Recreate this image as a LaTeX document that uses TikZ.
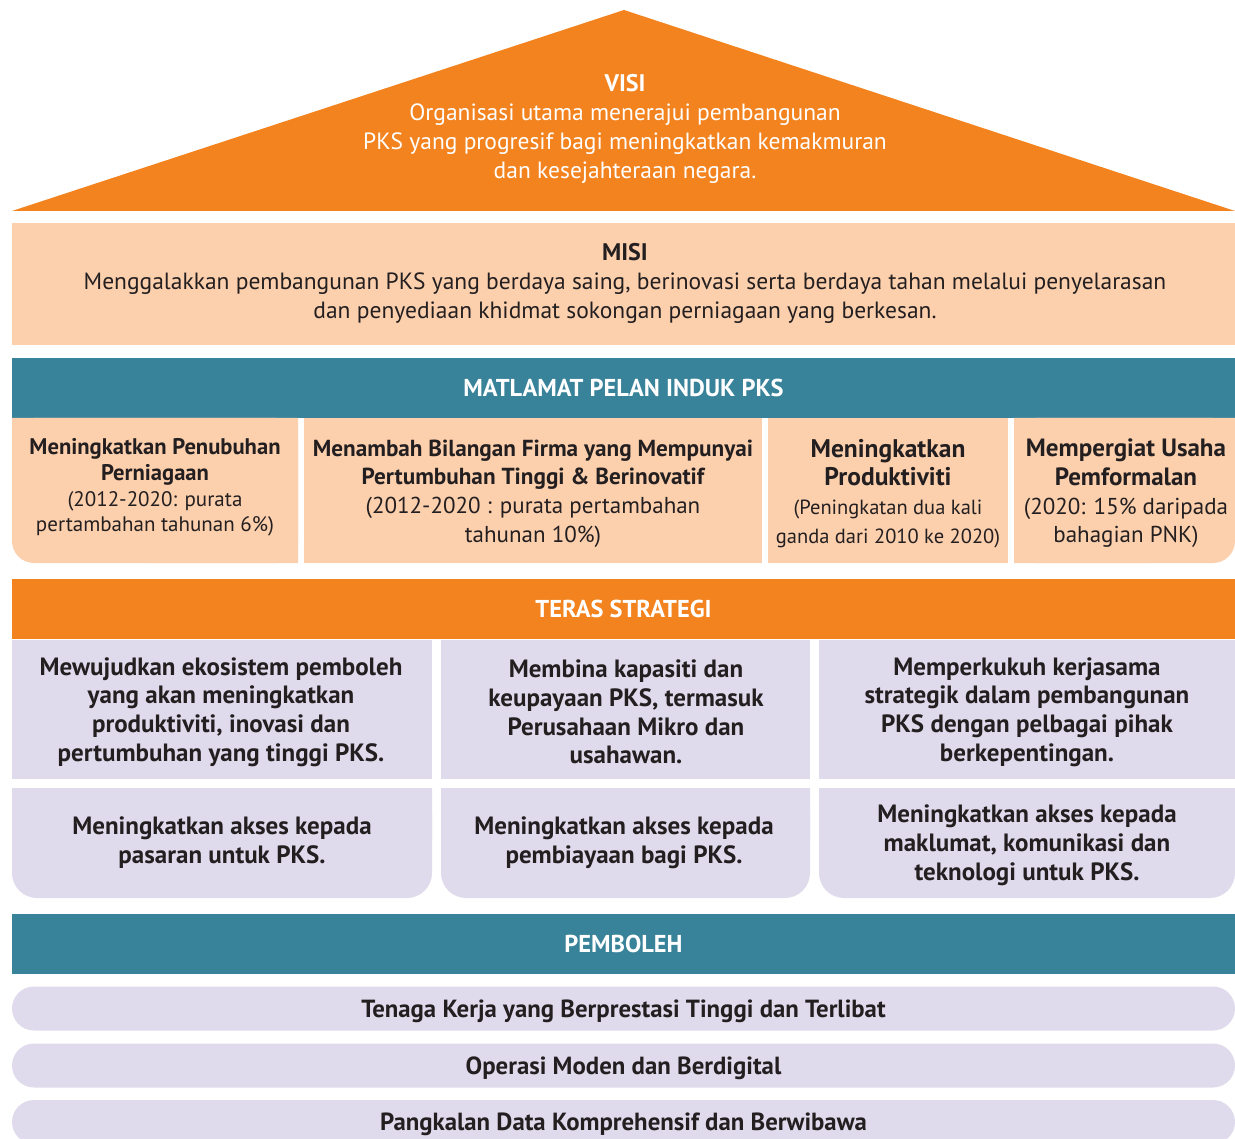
\documentclass[tikz,border=0pt]{standalone}
\usepackage{fontspec}
\setmainfont{PT Sans}
\usetikzlibrary{positioning,calc}

\definecolor{visiorange}{HTML}{F3831F}
\definecolor{peach}{HTML}{FCCFAD}
\definecolor{teal}{HTML}{39839A}
\definecolor{lilac}{HTML}{DFDBEC}
\definecolor{ink}{HTML}{231F20}

\newcommand{\bsz}[2]{{\fontsize{#1}{28.7}\selectfont\bfseries #2}}

\begin{document}
\begin{tikzpicture}[x=1pt,y=-1pt]
  \tikzset{
    bar/.style={minimum width=1223pt, minimum height=60pt, inner sep=0pt,
      text=white, font=\fontsize{24.4}{28}\selectfont\bfseries},
    body/.style={text=ink, align=center, inner sep=0pt, font=\fontsize{23.5}{29}\selectfont},
    core/.style={body, font=\fontsize{25}{28.8}\selectfont\bfseries},
    pill/.style={fill=lilac, rounded corners=22pt, minimum width=1223pt, minimum height=44pt,
      inner sep=0pt, text depth=0pt, text=ink, font=\fontsize{24.8}{28}\selectfont\bfseries}
  }
  \useasboundingbox (0,0) rectangle (1235,1139);

  % visi
  \fill[visiorange] (12,211) -- (624,10) -- (1235,211) -- cycle;
  \node[body, text=white] (visi) at (625,129)
    {\bsz{24}{VISI}\\Organisasi utama menerajui pembangunan\\PKS yang progresif bagi meningkatkan kemakmuran\\dan kesejahteraan negara.};

  % misi
  \node[bar, fill=peach, minimum height=122pt] (misibox) at (623.5,284) {};
  \node[body] (misi) at (625,283.5)
    {\bsz{24}{MISI}\\Menggalakkan pembangunan PKS yang berdaya saing, berinovasi serta berdaya tahan melalui penyelarasan\\dan penyediaan khidmat sokongan perniagaan yang berkesan.};

  % matlamat
  \node[bar, fill=teal] (matlamat) at (623.5,388) {MATLAMAT PELAN INDUK PKS};
  \fill[peach, rounded corners=22pt] (12,418) rectangle (298,563);
  \fill[peach] (12,418) rectangle (298,530) (150,418) rectangle (298,563);
  \fill[peach] (304,418) rectangle (762,563);
  \fill[peach] (768,418) rectangle (1008,563);
  \fill[peach, rounded corners=22pt] (1014,418) rectangle (1235,563);
  \fill[peach] (1014,418) rectangle (1235,530) (1014,418) rectangle (1150,563);

  \node[body, font=\fontsize{21}{25.7}\selectfont] (tubuh) at (155,487.5)
    {{\fontsize{22.6}{25.7}\selectfont\bfseries Meningkatkan Penubuhan}\\{\fontsize{22.6}{25.7}\selectfont\bfseries Perniagaan}\\(2012-2020: purata\\pertambahan tahunan 6\%)};
  \node[body, font=\fontsize{23}{28.7}\selectfont] (firma) at (533,493.5)
    {\bsz{23.2}{Menambah Bilangan Firma yang Mempunyai}\\\bsz{23.2}{Pertumbuhan Tinggi \& Berinovatif}\\(2012-2020 : purata pertambahan\\tahunan 10\%)};
  \node[body, font=\fontsize{20.5}{28.7}\selectfont] (produktif) at (888,493.5)
    {\bsz{25.5}{Meningkatkan}\\\bsz{25.5}{Produktiviti}\\(Peningkatan dua kali\\ganda dari 2010 ke 2020)};
  \node[body, font=\fontsize{23}{28.7}\selectfont] (formal) at (1126,493.5)
    {\bsz{25}{Mempergiat Usaha}\\\bsz{25}{Pemformalan}\\(2020: 15\% daripada\\bahagian PNK)};

  % teras strategi
  \node[bar, fill=visiorange] (teras) at (623.5,609) {TERAS STRATEGI};
  \fill[lilac] (12,640) rectangle (432,779);
  \fill[lilac] (441,640) rectangle (810,779);
  \fill[lilac] (819,640) rectangle (1235,779);
  \node[core] (ekosistem) at (221,712)
    {Mewujudkan ekosistem pemboleh\\yang akan meningkatkan\\produktiviti, inovasi dan\\pertumbuhan yang tinggi PKS.};
  \node[core] (kapasiti) at (626,712)
    {Membina kapasiti dan\\keupayaan PKS, termasuk\\Perusahaan Mikro dan\\usahawan.};
  \node[core] (kerjasama) at (1027,712)
    {Memperkukuh kerjasama\\strategik dalam pembangunan\\PKS dengan pelbagai pihak\\berkepentingan.};

  \fill[lilac, rounded corners=25pt] (12,788) rectangle (432,898);
  \fill[lilac, rounded corners=25pt] (441,788) rectangle (810,898);
  \fill[lilac, rounded corners=25pt] (819,788) rectangle (1235,898);
  \fill[lilac] (12,788) rectangle (432,840) (441,788) rectangle (810,840) (819,788) rectangle (1235,840);
  \node[core] (pasaran) at (222,843)
    {Meningkatkan akses kepada\\pasaran untuk PKS.};
  \node[core] (biaya) at (624,843)
    {Meningkatkan akses kepada\\pembiayaan bagi PKS.};
  \node[core] (maklumat) at (1027,845)
    {Meningkatkan akses kepada\\maklumat, komunikasi dan\\teknologi untuk PKS.};

  % pemboleh
  \node[bar, fill=teal] (pemboleh) at (623.5,943.5) {PEMBOLEH};
  \node[pill] (tenaga) at (623.5,1008.5) {Tenaga Kerja yang Berprestasi Tinggi dan Terlibat};
  \node[pill] (moden) at (623.5,1065.5) {Operasi Moden dan Berdigital};
  \node[pill] (data) at (623.5,1122) {Pangkalan Data Komprehensif dan Berwibawa};
\end{tikzpicture}
\end{document}
